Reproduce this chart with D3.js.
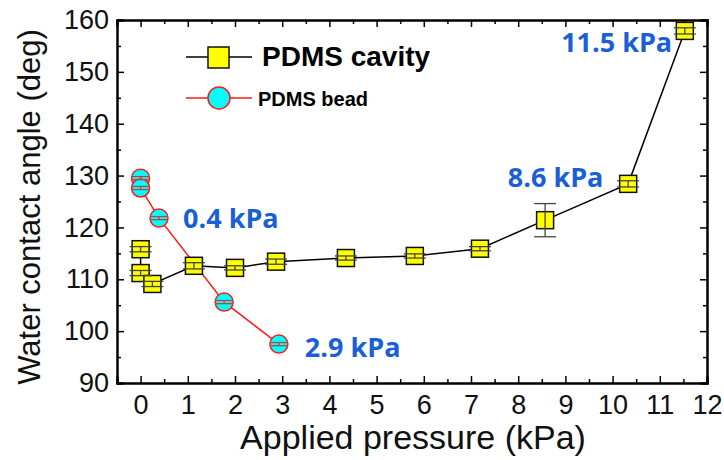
<!DOCTYPE html>
<html><head><meta charset="utf-8">
<script src="https://cdn.jsdelivr.net/npm/d3@7"></script>
<style>body{margin:0;background:#fff}svg{display:block}</style>
</head><body>
<script>
const cavityX = [0, 0, 0.25, 1.13, 2.0, 2.87, 4.35, 5.81, 7.19, 8.57, 10.33, 11.53];
const cavityY = [115.8, 111.2, 109.1, 112.6, 112.2, 113.4, 114.1, 114.5, 115.9, 121.4, 128.4, 157.9];
const cavityErr = [0.5, 0.5, 0.5, 0.6, 0.4, 0.5, 0.4, 0.4, 0.4, 3.2, 0.6, 0.6];
const beadX = [0, 0, 0.39, 1.77, 2.93];
const beadY = [129.5, 127.6, 121.8, 105.6, 97.5];
const beadErr = [0.3, 0.3, 0.3, 0.3, 0.3];
const xTicks = [0,1,2,3,4,5,6,7,8,9,10,11,12];
const yTicks = [90,100,110,120,130,140,150,160];
const annotations = [
  {text: "0.4 kPa", x: 0.9, y: 119.9},
  {text: "2.9 kPa", x: 3.48, y: 95.0},
  {text: "8.6 kPa", x: 7.78, y: 127.8},
  {text: "11.5 kPa", x: 8.91, y: 153.8}
];

const W = 724, H = 460;
const L = 117, R = 707, T = 20, B = 383;
const svg = d3.select("body").append("svg").attr("width", W).attr("height", H);
const x = d3.scaleLinear().domain([-0.5, 12]).range([L, R]);
const y = d3.scaleLinear().domain([90, 160]).range([B, T]);

const font = "'Liberation Sans', Arial, sans-serif";
const blue = "#1a5fd6";

const xMinor = d3.range(-0.5, 12.01, 0.5).filter(v => !xTicks.includes(v));
const yMinor = d3.range(95, 160, 10);

svg.append("g").attr("transform", `translate(0,${B})`)
  .call(d3.axisBottom(x).tickValues(xTicks).tickSize(-7).tickPadding(12).tickFormat(d3.format("d")));
svg.append("g").attr("transform", `translate(0,${T})`)
  .call(d3.axisTop(x).tickValues(xTicks).tickSize(-7).tickFormat(""));
svg.append("g").attr("transform", `translate(${L},0)`)
  .call(d3.axisLeft(y).tickValues(yTicks).tickSize(-7).tickPadding(8));
svg.append("g").attr("transform", `translate(${R},0)`)
  .call(d3.axisRight(y).tickValues(yTicks).tickSize(-7).tickFormat(""));
svg.append("g").attr("transform", `translate(0,${B})`).call(d3.axisBottom(x).tickValues(xMinor).tickSize(-4).tickFormat(""));
svg.append("g").attr("transform", `translate(0,${T})`).call(d3.axisTop(x).tickValues(xMinor).tickSize(-4).tickFormat(""));
svg.append("g").attr("transform", `translate(${L},0)`).call(d3.axisLeft(y).tickValues(yMinor).tickSize(-4).tickFormat(""));
svg.append("g").attr("transform", `translate(${R},0)`).call(d3.axisRight(y).tickValues(yMinor).tickSize(-4).tickFormat(""));
svg.selectAll(".domain").attr("stroke", "#000").attr("stroke-width", 2);
svg.selectAll(".tick line").attr("stroke", "#000").attr("stroke-width", 1.5);
svg.selectAll(".tick text").attr("font-family", font).attr("font-size", 27).attr("fill", "#111");

svg.append("text").attr("x", (L + R) / 2 + 1).attr("y", 449).attr("text-anchor", "middle")
  .attr("font-family", font).attr("font-size", 34).attr("fill", "#111").text("Applied pressure (kPa)");
svg.append("text").attr("transform", `translate(40,${207}) rotate(-90)`).attr("text-anchor", "middle")
  .attr("font-family", font).attr("font-size", 31).attr("fill", "#111").text("Water contact angle (deg)");

const cav = cavityX.map((v, i) => ({x: v, y: cavityY[i], e: cavityErr[i]}));
const bead = beadX.map((v, i) => ({x: v, y: beadY[i], e: beadErr[i]}));
const line = d3.line().x(d => x(d.x)).y(d => y(d.y));

svg.append("path").datum(cav).attr("d", line).attr("fill", "none").attr("stroke", "#000").attr("stroke-width", 1.5);
svg.append("path").datum(bead).attr("d", line).attr("fill", "none").attr("stroke", "#ff1a1a").attr("stroke-width", 1.5);

const sq = 17, cr = 9;
svg.append("g").selectAll("rect").data(cav).join("rect")
  .attr("x", d => x(d.x) - sq / 2).attr("y", d => y(d.y) - sq / 2).attr("width", sq).attr("height", sq)
  .attr("fill", "#ffff00").attr("stroke", "#111").attr("stroke-width", 1.5);
svg.append("g").selectAll("circle").data(bead).join("circle")
  .attr("cx", d => x(d.x)).attr("cy", d => y(d.y)).attr("r", cr)
  .attr("fill", "#00ffff").attr("stroke", "#ff1a1a").attr("stroke-width", 1.5);

function errbars(data, color, cap) {
  const g = svg.append("g").attr("stroke", color).attr("stroke-width", 1.3);
  data.forEach(d => {
    const x0 = x(d.x), y1 = y(d.y + d.e), y2 = y(d.y - d.e);
    g.append("line").attr("x1", x0).attr("x2", x0).attr("y1", y1).attr("y2", y2);
    g.append("line").attr("x1", x0 - cap).attr("x2", x0 + cap).attr("y1", y1).attr("y2", y1);
    g.append("line").attr("x1", x0 - cap).attr("x2", x0 + cap).attr("y1", y2).attr("y2", y2);
  });
}
errbars(cav, "#444", 11);
errbars(bead, "#c04040", 9);

const lg = svg.append("g");
lg.append("line").attr("x1", 186).attr("x2", 252).attr("y1", 57).attr("y2", 57).attr("stroke", "#000").attr("stroke-width", 1.5);
lg.append("rect").attr("x", 208).attr("y", 47).attr("width", 21).attr("height", 21).attr("fill", "#ffff00").attr("stroke", "#111").attr("stroke-width", 1.5);
lg.append("text").attr("x", 262).attr("y", 66).attr("font-family", font).attr("font-weight", "bold").attr("font-size", 28).attr("fill", "#000").text("PDMS cavity");
lg.append("line").attr("x1", 186).attr("x2", 252).attr("y1", 98).attr("y2", 98).attr("stroke", "#ff1a1a").attr("stroke-width", 1.5);
lg.append("circle").attr("cx", 219).attr("cy", 98).attr("r", 11).attr("fill", "#00ffff").attr("stroke", "#ff1a1a").attr("stroke-width", 1.5);
lg.append("text").attr("x", 258).attr("y", 106).attr("font-family", font).attr("font-weight", "bold").attr("font-size", 20).attr("fill", "#000").text("PDMS bead");

svg.append("g").selectAll("text").data(annotations).join("text")
  .attr("x", d => x(d.x)).attr("y", d => y(d.y))
  .attr("font-family", "'Open Sans', 'Noto Sans', sans-serif").attr("font-weight", "bold")
  .attr("font-size", 27).attr("fill", blue).text(d => d.text);
</script>
</body></html>
